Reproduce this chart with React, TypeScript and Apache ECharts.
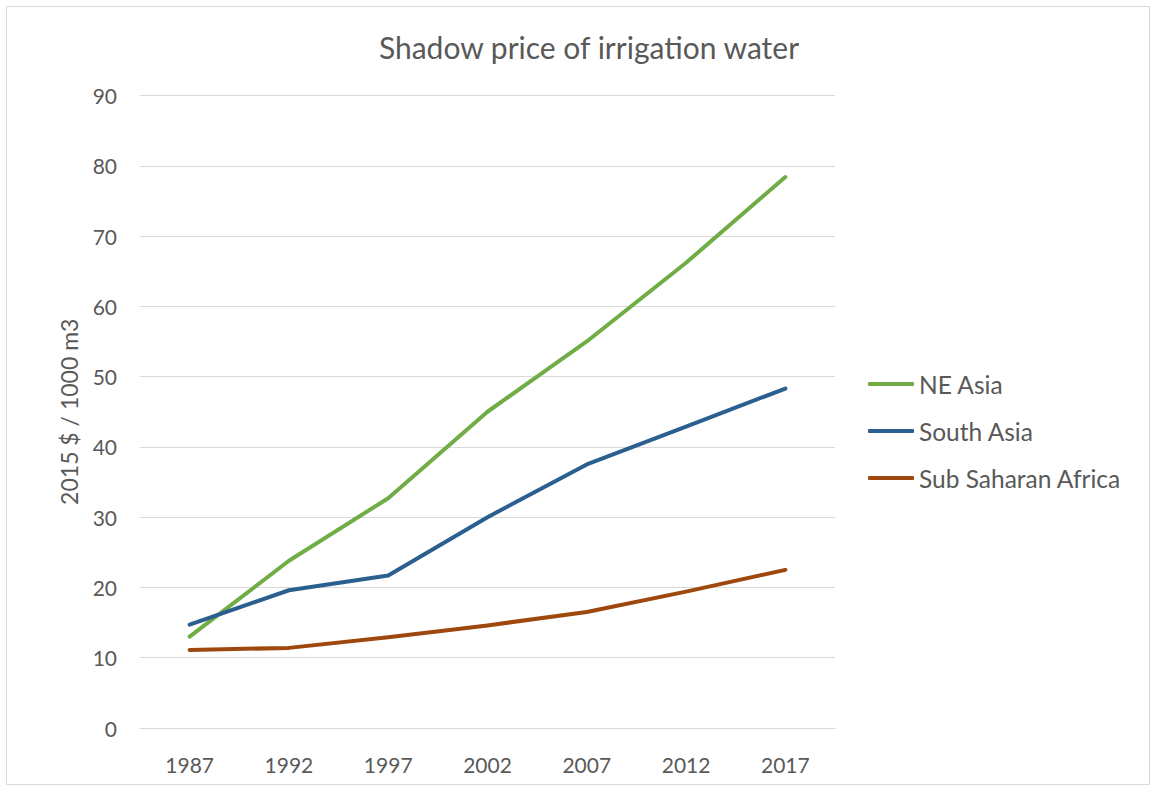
import React, { useEffect, useRef } from "react";
import * as echarts from "echarts";

const years = ["1987", "1992", "1997", "2002", "2007", "2012", "2017"];
const neAsia = [13.0, 23.8, 32.7, 45.0, 55.0, 66.2, 78.4];
const southAsia = [14.7, 19.6, 21.7, 30.0, 37.5, 42.9, 48.3];
const subSaharanAfrica = [11.1, 11.4, 12.9, 14.6, 16.5, 19.4, 22.5];

const FONT = "Lato";
const TXT = "#595959";

export default function App() {
  const ref = useRef<HTMLDivElement>(null);
  useEffect(() => {
    if (!ref.current) return;
    const chart = echarts.init(ref.current, undefined, { renderer: "svg" });
    const mk = (name: string, data: number[], color: string) => ({
      name,
      type: "line",
      data,
      symbol: "none",
      smooth: false,
      lineStyle: { width: 4, color, cap: "round", join: "round" },
      itemStyle: { color },
    });
    chart.setOption({
      animation: false,
      backgroundColor: "#ffffff",
      title: {
        text: "Shadow price of irrigation water",
        left: 584,
        textAlign: "center",
        top: 27,
        textStyle: { fontFamily: FONT, fontSize: 30, fontWeight: "normal", color: TXT },
      },
      graphic: [
        {
          type: "rect",
          shape: { x: 6.5, y: 6.5, width: 1143, height: 778 },
          style: { fill: "none", stroke: "#D9D9D9", lineWidth: 1 },
          silent: true,
          z: -1,
        },
      ],
      legend: {
        orient: "vertical",
        left: 863,
        top: 366,
        itemWidth: 46,
        itemHeight: 4,
        itemGap: 21,
        icon: "roundRect",
        textStyle: { fontFamily: FONT, fontSize: 24.5, color: TXT, lineHeight: 26 },
        data: ["NE Asia", "South Asia", "Sub Saharan Africa"],
      },
      grid: { left: 140, right: 323, top: 95.5, bottom: 63, containLabel: false },
      xAxis: {
        type: "category",
        data: years,
        boundaryGap: true,
        axisLine: { show: true, lineStyle: { color: "#D9D9D9", width: 1 } },
        axisTick: { show: false },
        axisLabel: { fontFamily: FONT, fontSize: 21, color: TXT, margin: 26 },
      },
      yAxis: {
        type: "value",
        min: 0,
        max: 90,
        interval: 10,
        name: "2015 $ / 1000 m3",
        nameLocation: "middle",
        nameGap: 60,
        nameTextStyle: { fontFamily: FONT, fontSize: 23, color: TXT },
        axisLine: { show: false },
        axisTick: { show: false },
        axisLabel: { fontFamily: FONT, fontSize: 21, color: TXT, margin: 23 },
        splitLine: { lineStyle: { color: "#D9D9D9", width: 1 } },
      },
      series: [
        mk("NE Asia", neAsia, "#70AD47"),
        mk("South Asia", southAsia, "#2A5F8F"),
        mk("Sub Saharan Africa", subSaharanAfrica, "#9E480E"),
      ],
    });
    return () => chart.dispose();
  }, []);
  return (
    <div
      ref={ref}
      style={{ position: "absolute", left: 0, top: 0, width: 1158, height: 791 }}
    />
  );
}
